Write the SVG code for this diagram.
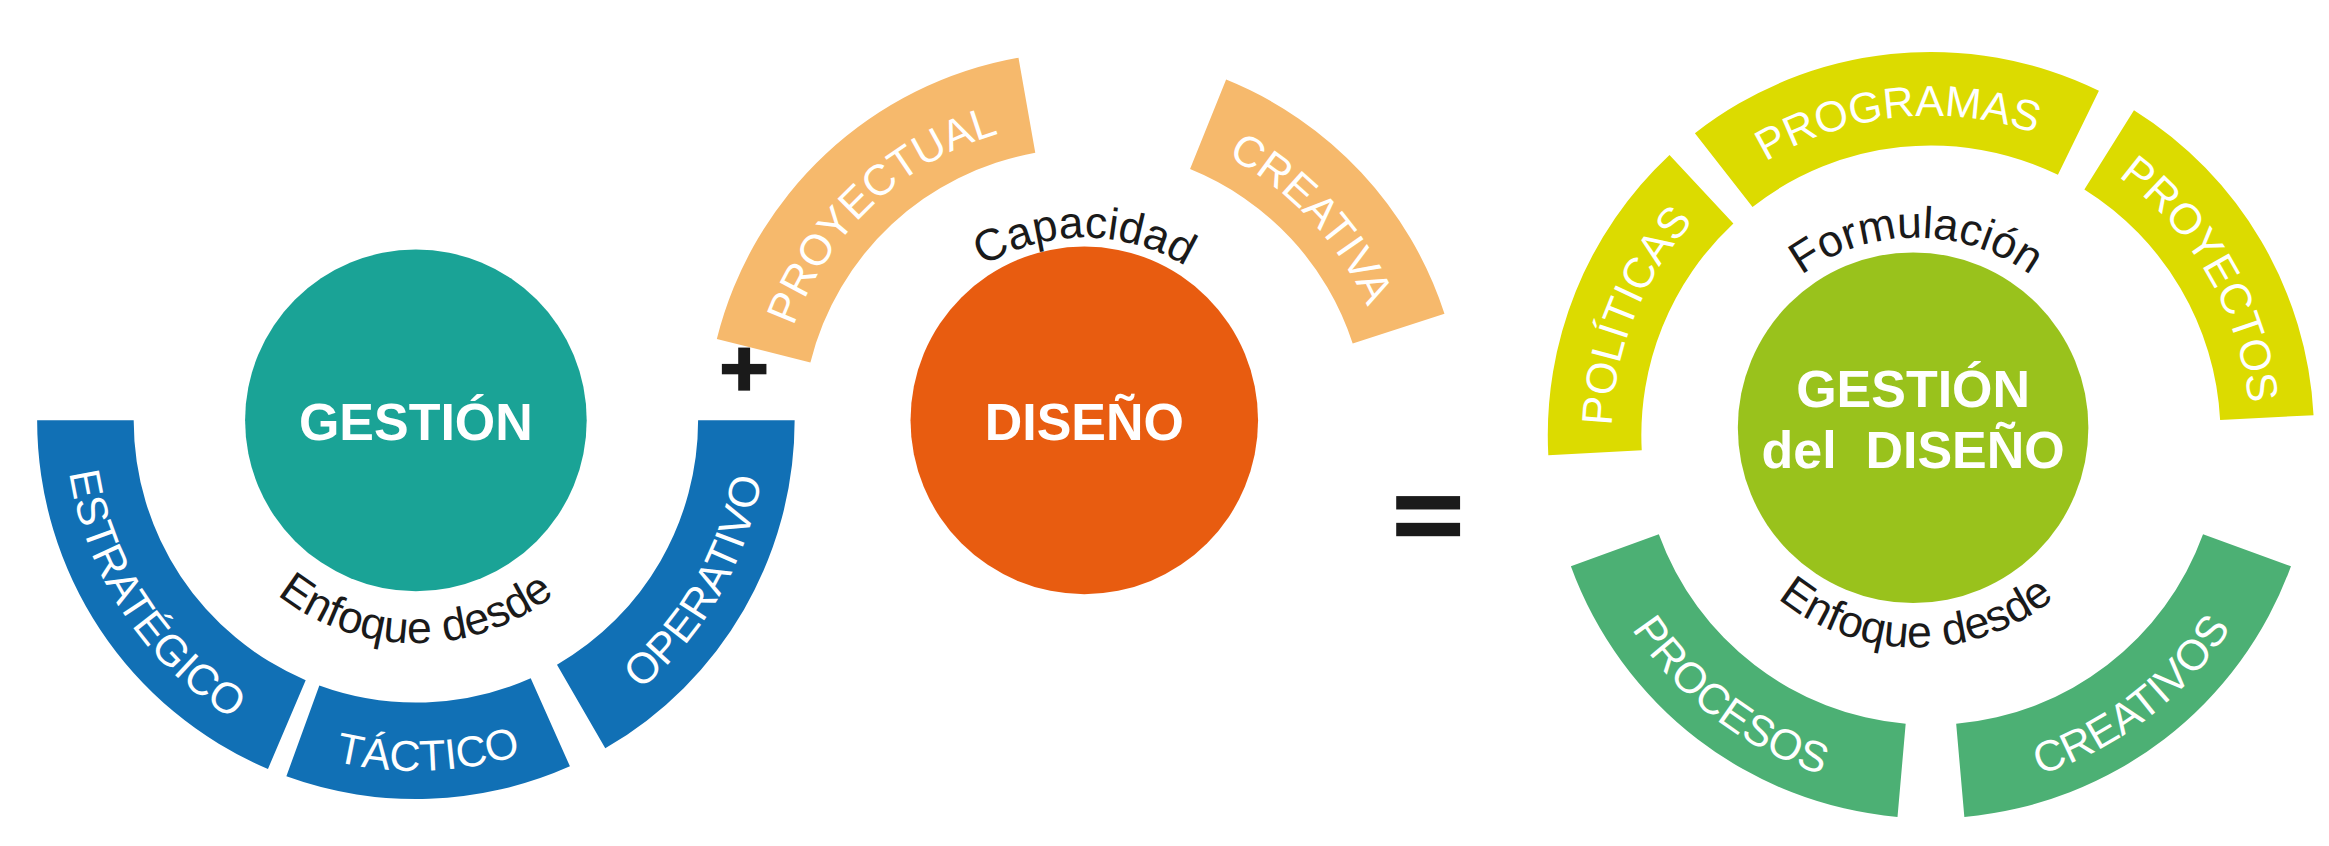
<svg xmlns="http://www.w3.org/2000/svg" xmlns:xlink="http://www.w3.org/1999/xlink" width="2329" height="846" viewBox="0 0 2329 846">
<style>
.seg{font-family:"Liberation Sans",Arial,sans-serif;font-size:29px;fill:#fff}
.inn{font-family:"Liberation Sans",Arial,sans-serif;font-size:30px;fill:#1a1a1a}
.ttl{font-family:"Liberation Sans",Arial,sans-serif;font-size:35px;font-weight:bold;fill:#fff}
.blue{fill:#1170b5}.peach{fill:#f6b96c}.yel{fill:#dcdb00}.grn{fill:#4cb074}
</style>
<defs>
<path id="pBlue" d="M 44 283 A 236 236 0 0 0 516 283"/>
<path id="pBlueIn" d="M 130 283 A 150 150 0 0 0 430 283"/>
<path id="pPeach" d="M 522 290 A 208 208 0 0 1 938 290"/>
<path id="pPeachIn" d="M 600 290 A 130 130 0 0 1 860 290"/>
<path id="pYel" d="M 1085 293 A 215 215 0 0 1 1515 293"/>
<path id="pYelIn" d="M 1160 290 A 130 130 0 0 1 1420 290"/>
<path id="pGrn" d="M 1060 293 A 240 240 0 0 0 1540 293"/>
<path id="pGrnIn" d="M 1142 288 A 148 148 0 0 0 1438 288"/>
</defs>
<g transform="scale(1.48533)">
<g id="gestion">
<circle cx="280" cy="283" r="115" fill="#1aa396"/>
<text class="ttl" x="280" y="296" text-anchor="middle">GESTIÓN</text>
<path class="blue" d="M 180.4 517.7 A 255 255 0 0 1 25 283 L 90 283 A 190 190 0 0 0 205.8 457.9 Z"/>
<path class="blue" d="M 383.7 515.9 A 255 255 0 0 1 192.8 522.6 L 215 461.5 A 190 190 0 0 0 357.3 456.6 Z"/>
<path class="blue" d="M 535 283 A 255 255 0 0 1 407.5 503.8 L 375 447.5 A 190 190 0 0 0 470 283 Z"/>
<text class="seg" text-anchor="middle"><textPath href="#pBlue" xlink:href="#pBlue" startOffset="138">ESTRATÉGICO</textPath></text>
<text class="seg" text-anchor="middle"><textPath href="#pBlue" xlink:href="#pBlue" startOffset="379">TÁCTICO</textPath></text>
<text class="seg" text-anchor="middle"><textPath href="#pBlue" xlink:href="#pBlue" startOffset="618">OPERATIVO</textPath></text>
<text class="inn" text-anchor="middle"><textPath href="#pBlueIn" xlink:href="#pBlueIn" startOffset="50%">Enfoque desde</textPath></text>
</g>
<g id="plus"><rect x="486" y="245" width="30" height="7" fill="#1a1a1a"/><rect x="497" y="234" width="8" height="29" fill="#1a1a1a"/></g>
<g id="diseno">
<circle cx="730" cy="283" r="117" fill="#e85c10"/>
<text class="ttl" x="730" y="296" text-anchor="middle">DISEÑO</text>
<path class="peach" d="M 482.6 228.3 A 255 255 0 0 1 685.7 38.9 L 697 102.9 A 190 190 0 0 0 545.6 244 Z"/>
<path class="peach" d="M 825.5 53.6 A 255 255 0 0 1 972.5 211.2 L 910.7 231.3 A 190 190 0 0 0 801.2 113.8 Z"/>
<text class="seg" text-anchor="middle"><textPath href="#pPeach" xlink:href="#pPeach" startOffset="170">PROYECTUAL</textPath></text>
<text class="seg" text-anchor="middle"><textPath href="#pPeach" xlink:href="#pPeach" startOffset="497">CREATIVA</textPath></text>
<text class="inn" text-anchor="middle"><textPath href="#pPeachIn" xlink:href="#pPeachIn" startOffset="50%">Capacidad</textPath></text>
</g>
<g id="equals"><rect x="940" y="334" width="43" height="9" fill="#1a1a1a"/><rect x="940" y="352" width="43" height="9" fill="#1a1a1a"/></g>
<g id="gestion-diseno">
<circle cx="1288" cy="288" r="118" fill="#99c21c"/>
<text class="ttl" x="1288" y="274" text-anchor="middle">GESTIÓN</text>
<text class="ttl" x="1288" y="315" text-anchor="middle" xml:space="preserve">del  DISEÑO</text>
<path class="yel" d="M 1042.4 306.5 A 258 258 0 0 1 1124 104.3 L 1167 150.4 A 195 195 0 0 0 1105.3 303.2 Z"/>
<path class="yel" d="M 1141.1 89.7 A 258 258 0 0 1 1413.1 61.1 L 1385.5 117.7 A 195 195 0 0 0 1179.9 139.3 Z"/>
<path class="yel" d="M 1436.7 74.2 A 258 258 0 0 1 1557.6 279.5 L 1494.7 282.8 A 195 195 0 0 0 1403.3 127.6 Z"/>
<path class="grn" d="M 1277.5 550 A 258 258 0 0 1 1057.6 381.2 L 1116.8 359.7 A 195 195 0 0 0 1283 487.3 Z"/>
<path class="grn" d="M 1542.4 381.2 A 258 258 0 0 1 1322.5 550 L 1317 487.3 A 195 195 0 0 0 1483.2 359.7 Z"/>
<text class="seg" text-anchor="middle"><textPath href="#pYel" xlink:href="#pYel" startOffset="82">POLÍTICAS</textPath></text>
<text class="seg" text-anchor="middle"><textPath href="#pYel" xlink:href="#pYel" startOffset="315">PROGRAMAS</textPath></text>
<text class="seg" text-anchor="middle"><textPath href="#pYel" xlink:href="#pYel" startOffset="563">PROYECTOS</textPath></text>
<text class="seg" text-anchor="middle"><textPath href="#pGrn" xlink:href="#pGrn" startOffset="220">PROCESOS</textPath></text>
<text class="seg" text-anchor="middle"><textPath href="#pGrn" xlink:href="#pGrn" startOffset="534">CREATIVOS</textPath></text>
<text class="inn" text-anchor="middle"><textPath href="#pYelIn" xlink:href="#pYelIn" startOffset="50%">Formulación</textPath></text>
<text class="inn" text-anchor="middle"><textPath href="#pGrnIn" xlink:href="#pGrnIn" startOffset="50%">Enfoque desde</textPath></text>
</g>
<g id="connectors"/>
</g>
</svg>
